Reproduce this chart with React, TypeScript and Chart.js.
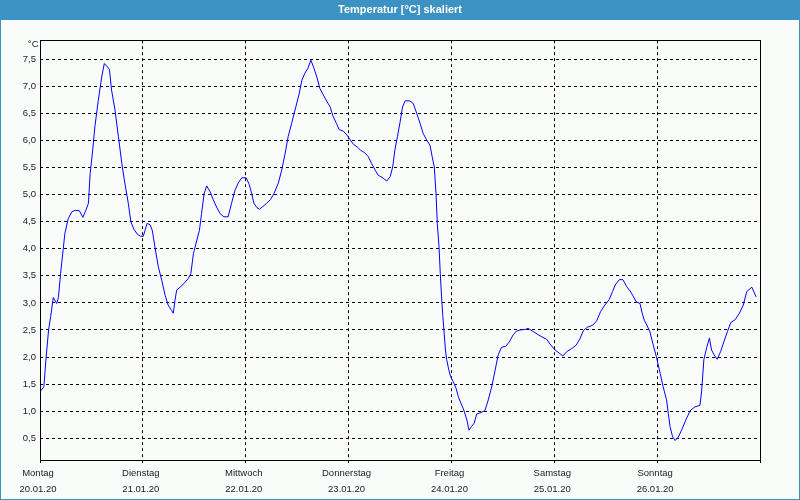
import React, { useEffect, useRef } from "react";
import { Chart, registerables } from "chart.js";

Chart.register(...registerables);

const TITLE = "Temperatur [°C] skaliert";
const UNIT_LABEL = "°C";
const DAY_NAMES = ["Montag", "Dienstag", "Mittwoch", "Donnerstag", "Freitag", "Samstag", "Sonntag"];
const DATES = ["20.01.20", "21.01.20", "22.01.20", "23.01.20", "24.01.20", "25.01.20", "26.01.20"];
const DAY_TICK_HOURS = [0, 24, 48, 72, 96, 120, 144, 168];
const Y_TICKS = [0.5, 1.0, 1.5, 2.0, 2.5, 3.0, 3.5, 4.0, 4.5, 5.0, 5.5, 6.0, 6.5, 7.0, 7.5];
const Y_MIN = 0.1;
const Y_MAX = 7.85;

// hours since Monday 20.01.20 00:00
const HOURS = [
  0, 0.9, 1.4, 2.0, 2.5, 3.1, 3.9, 4.3, 4.8, 5.4, 5.8, 6.6, 7.4, 8.2, 9.2, 10.0, 10.7, 11.3, 11.7, 12.3,
  12.8, 13.6, 14.4, 15.0, 15.6, 16.2, 16.7, 17.5, 18.3, 19.1, 19.8, 20.6, 21.2, 21.9, 22.7, 23.5, 24.1, 24.5, 25.0, 25.7,
  26.2, 26.8, 27.6, 28.4, 29.2, 29.9, 30.7, 31.1, 31.5, 31.9, 32.7, 33.6, 34.6, 35.2, 35.8, 36.6, 37.2, 37.7, 38.3, 38.9,
  39.7, 40.4, 41.2, 42.0, 42.9, 43.9, 44.7, 45.5, 46.3, 47.1, 48.1, 48.8, 49.4, 49.9, 50.6, 51.2, 52.0, 52.9, 53.8, 54.6,
  55.6, 56.4, 57.2, 57.9, 58.7, 59.7, 60.5, 61.1, 61.8, 62.5, 63.2, 63.8, 64.6, 65.3, 66.1, 67.0, 67.7, 68.4, 69.2, 69.8,
  70.8, 71.6, 72.3, 73.1, 74.0, 74.8, 75.8, 76.6, 77.4, 78.2, 78.9, 80.1, 80.9, 81.7, 82.3, 82.8, 83.4, 84.0, 84.6, 85.2,
  86.3, 87.1, 87.9, 88.7, 89.4, 90.2, 91.0, 91.5, 92.0, 92.4, 92.7, 93.1, 93.4, 93.7, 94.0, 94.3, 94.6, 94.9, 95.4, 95.8,
  96.4, 97.1, 97.6, 98.2, 98.9, 99.6, 100.1, 100.7, 101.3, 101.9, 102.7, 103.8, 104.6, 105.4, 106.2, 106.9, 107.7, 108.7, 109.5, 110.4,
  111.2, 112.0, 113.2, 113.9, 115.1, 116.3, 117.4, 118.2, 119.0, 120.2, 121.2, 122.0, 122.9, 124.1, 125.1, 126.0, 126.8, 127.7, 129.0, 129.9,
  130.8, 131.8, 132.8, 133.6, 134.2, 135.2, 136.0, 136.9, 137.7, 138.3, 139.1, 140.0, 140.5, 141.0, 141.6, 142.3, 143.1, 143.9, 144.7, 145.4,
  146.2, 146.6, 147.0, 147.6, 148.2, 148.9, 149.7, 150.7, 151.7, 152.8, 154.0, 154.4, 154.9, 155.6, 156.2, 156.7, 157.3, 158.0, 158.8, 159.6,
  160.4, 161.2, 162.2, 163.2, 164.1, 164.9, 166.1, 167.1,
];

const TEMPS = [
  1.36, 1.45, 1.97, 2.5, 2.75, 3.1, 2.99, 3.1, 3.54, 3.98, 4.28, 4.56, 4.68, 4.71, 4.7, 4.58, 4.71, 4.84, 5.39, 5.82,
  6.25, 6.74, 7.17, 7.42, 7.37, 7.31, 6.93, 6.56, 6.07, 5.57, 5.21, 4.84, 4.5, 4.36, 4.27, 4.23, 4.23, 4.34, 4.47, 4.44,
  4.34, 4.04, 3.67, 3.42, 3.14, 2.96, 2.86, 2.81, 3.05, 3.24, 3.29, 3.36, 3.45, 3.54, 3.91, 4.16, 4.34, 4.65, 5.02, 5.16,
  5.05, 4.91, 4.77, 4.65, 4.59, 4.59, 4.84, 5.08, 5.22, 5.31, 5.31, 5.19, 5.02, 4.84, 4.76, 4.73, 4.78, 4.84, 4.91, 5.02,
  5.21, 5.45, 5.76, 6.07, 6.31, 6.62, 6.87, 7.11, 7.24, 7.33, 7.48, 7.36, 7.17, 6.96, 6.84, 6.71, 6.62, 6.44, 6.31, 6.2,
  6.17, 6.1, 6.02, 5.93, 5.88, 5.82, 5.77, 5.7, 5.57, 5.45, 5.36, 5.3, 5.25, 5.33, 5.51, 5.82, 6.07, 6.33, 6.62, 6.73,
  6.73, 6.68, 6.5, 6.31, 6.13, 6.01, 5.91, 5.7, 5.51, 5.02, 4.47, 4.04, 3.54, 3.11, 2.75, 2.44, 2.13, 1.95, 1.76, 1.64,
  1.55, 1.42, 1.27, 1.15, 1.02, 0.84, 0.65, 0.72, 0.78, 0.95, 0.97, 1.01, 1.21, 1.45, 1.76, 2.04, 2.18, 2.2, 2.28, 2.41,
  2.48, 2.5, 2.51, 2.53, 2.47, 2.41, 2.36, 2.33, 2.24, 2.13, 2.07, 2.02, 2.1, 2.16, 2.22, 2.34, 2.49, 2.55, 2.59, 2.67,
  2.84, 2.96, 3.06, 3.21, 3.33, 3.43, 3.43, 3.3, 3.22, 3.14, 3.02, 2.99, 2.81, 2.68, 2.59, 2.47, 2.22, 1.98, 1.7, 1.45,
  1.21, 0.96, 0.72, 0.53, 0.46, 0.52, 0.65, 0.84, 1.01, 1.08, 1.11, 1.39, 1.95, 2.19, 2.35, 2.13, 2.04, 1.96, 2.1, 2.29,
  2.47, 2.64, 2.69, 2.81, 2.96, 3.21, 3.29, 3.11,
];

const FRAME_BLUE = "#3d92c4";
const PAGE_BG = "#fafcfa";
const TEXT_COLOR = "#1a1a2a";
const FONT_FAMILY = "'Liberation Sans', Arial, sans-serif";

const framePlugin = {
  id: "frame",
  beforeDraw(chart: any) {
    const { ctx, width, height } = chart;
    ctx.save();
    ctx.fillStyle = PAGE_BG;
    ctx.fillRect(0, 0, width, height);
    ctx.fillStyle = FRAME_BLUE;
    ctx.fillRect(0, 0, width, 20);
    ctx.strokeStyle = FRAME_BLUE;
    ctx.lineWidth = 1;
    ctx.strokeRect(0.5, 0.5, width - 1, height - 1);
    ctx.restore();
  },
  afterDraw(chart: any) {
    const { ctx, chartArea } = chart;
    ctx.save();
    ctx.strokeStyle = "#000000";
    ctx.lineWidth = 1;
    ctx.setLineDash([]);
    const l = Math.round(chartArea.left) + 0.5;
    const t = Math.round(chartArea.top) + 0.5;
    const r = Math.round(chartArea.right) + 0.5;
    const b = Math.round(chartArea.bottom) + 0.5;
    ctx.strokeRect(l, t, r - l, b - t);
    ctx.fillStyle = TEXT_COLOR;
    ctx.font = `9.5px ${FONT_FAMILY}`;
    ctx.textAlign = "right";
    ctx.textBaseline = "middle";
    ctx.fillText(UNIT_LABEL, l - 2, t + 4);
    ctx.restore();
  },
};

export default function App() {
  const canvasRef = useRef<HTMLCanvasElement | null>(null);

  useEffect(() => {
    const canvas = canvasRef.current;
    if (!canvas) return;
    const chart = new Chart(canvas, {
      type: "line",
      data: {
        datasets: [
          {
            label: "Temperatur",
            data: HOURS.map((h, i) => ({ x: h, y: TEMPS[i] })),
            borderColor: "#0000ff",
            borderWidth: 1,
            pointRadius: 0,
            tension: 0,
            fill: false,
            yAxisID: "y",
          },
        ],
      },
      options: {
        responsive: false,
        animation: false,
        layout: { padding: { top: 0, left: 0, right: 0, bottom: 0 } },
        plugins: {
          legend: { display: false },
          tooltip: { enabled: false },
          title: {
            display: true,
            text: TITLE,
            color: "#ffffff",
            font: { family: FONT_FAMILY, size: 11, weight: "bold", lineHeight: 1.2 },
            padding: { top: 3, bottom: 24 },
          },
        },
        scales: {
          x: {
            type: "linear",
            min: DAY_TICK_HOURS[0],
            max: DAY_TICK_HOURS[DAY_TICK_HOURS.length - 1],
            afterBuildTicks: (scale: any) => {
              scale.ticks = DAY_TICK_HOURS.map((v) => ({ value: v }));
            },
            afterFit: (scale: any) => {
              scale.height = 40;
            },
            grid: {
              color: "#000000",
              lineWidth: 1,
              drawTicks: true,
              tickLength: 3,
              tickColor: "#000000",
            },
            border: { display: false, dash: [3, 3] },
            ticks: {
              autoSkip: false,
              maxRotation: 0,
              minRotation: 0,
              padding: 2,
              labelOffset: -2,
              color: TEXT_COLOR,
              font: { family: FONT_FAMILY, size: 9.5, lineHeight: "16px" },
              callback: (_v: any, i: number) =>
                i < DAY_NAMES.length ? [DAY_NAMES[i], DATES[i]] : "",
            },
          },
          y: {
            type: "linear",
            position: "left",
            min: Y_MIN,
            max: Y_MAX,
            afterBuildTicks: (scale: any) => {
              scale.ticks = Y_TICKS.map((v) => ({ value: v }));
            },
            afterFit: (scale: any) => {
              scale.width = 40;
            },
            grid: {
              color: "#000000",
              lineWidth: 1,
              drawTicks: false,
            },
            border: { display: false, dash: [3, 3] },
            ticks: {
              padding: 4,
              color: TEXT_COLOR,
              font: { family: FONT_FAMILY, size: 9.5 },
              callback: (v: any) => Number(v).toFixed(1).replace(".", ","),
            },
          },
          yRight: {
            type: "linear",
            position: "right",
            min: Y_MIN,
            max: Y_MAX,
            afterFit: (scale: any) => {
              scale.width = 40;
            },
            grid: { display: false, drawOnChartArea: false, drawTicks: false },
            border: { display: false },
            ticks: { display: false },
          },
        },
      },
      plugins: [framePlugin],
    } as any);
    return () => chart.destroy();
  }, []);

  return (
    <div style={{ position: "fixed", left: 0, top: 0, width: 800, height: 500 }}>
      <canvas ref={canvasRef} width={800} height={500} style={{ width: 800, height: 500, display: "block" }} />
    </div>
  );
}
